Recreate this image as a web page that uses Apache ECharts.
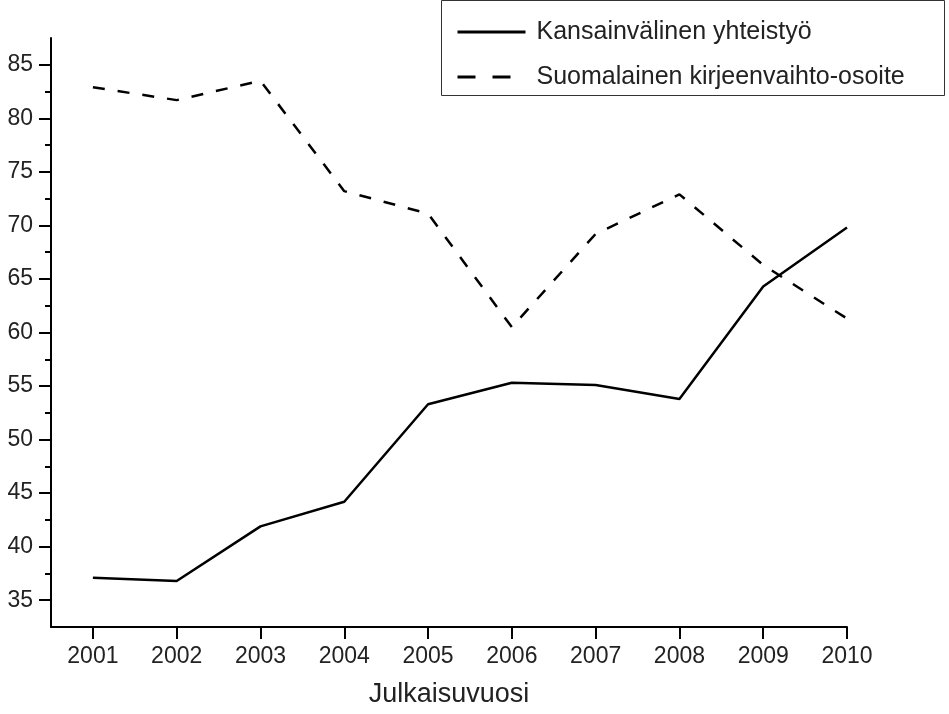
<!DOCTYPE html>
<html>
<head>
<meta charset="utf-8">
<script src="https://cdn.jsdelivr.net/npm/echarts@6/dist/echarts.min.js"></script>
<style>
  html, body { margin: 0; padding: 0; background: #fff; }
  #chart { width: 949px; height: 714px; }
</style>
</head>
<body>
<div id="chart"></div>
<script>
var years = [2001, 2002, 2003, 2004, 2005, 2006, 2007, 2008, 2009, 2010];
var kansainvalinen = [37.1, 36.8, 41.9, 44.2, 53.3, 55.3, 55.1, 53.8, 64.3, 69.8];
var suomalainen = [82.9, 81.7, 83.5, 73.2, 71.1, 60.5, 69.2, 72.9, 66.3, 61.3];
var yMajorTicks = [35, 40, 45, 50, 55, 60, 65, 70, 75, 80, 85];
var yMinorTicks = [37.5, 42.5, 47.5, 52.5, 57.5, 62.5, 67.5, 72.5, 77.5, 82.5];

var seriesNames = ['Kansainvälinen yhteistyö', 'Suomalainen kirjeenvaihto-osoite'];

function pairs(values) {
    return years.map(function (y, i) { return [y, values[i]]; });
}

var font = '"Liberation Sans", Arial, Helvetica, sans-serif';
var myChart = echarts.init(document.getElementById('chart'));

var option = {
    backgroundColor: '#fff',
    animation: false,
    textStyle: { fontFamily: font, color: '#222' },
    grid: { left: 51, right: 102, top: 38, bottom: 87 },
    legend: {
        orient: 'vertical',
        left: 456,
        top: 19,
        padding: 0,
        itemWidth: 68,
        itemHeight: 14,
        itemGap: 19,
        itemStyle: { opacity: 0 },
        textStyle: { fontSize: 25, lineHeight: 26, color: '#222', fontFamily: font, padding: [0, 0, 0, 6] },
        data: [{
            name: seriesNames[0],
            lineStyle: { width: 3, type: 'solid', color: '#000' }
        }, {
            name: seriesNames[1],
            lineStyle: { width: 3, type: [18, 17], color: '#000' }
        }]
    },
    graphic: [{
        type: 'rect',
        shape: { x: 441.5, y: 0.5, width: 503, height: 95 },
        style: { fill: 'none', stroke: '#333', lineWidth: 1 }
    }],
    xAxis: {
        type: 'value',
        min: 2000.5,
        max: 2010,
        name: 'Julkaisuvuosi',
        nameLocation: 'middle',
        nameGap: 54,
        nameTextStyle: { fontSize: 27, color: '#222', fontFamily: font },
        axisLine: { lineStyle: { color: '#000', width: 2 } },
        axisTick: { show: true, inside: false, length: 12, lineStyle: { color: '#000', width: 2 }, customValues: years },
        axisLabel: {
            fontSize: 23, color: '#222', margin: 18, customValues: years,
            formatter: function (v) { return String(v); }
        },
        splitLine: { show: false }
    },
    yAxis: [{
        type: 'value',
        min: 32.5,
        max: 87.5,
        axisLine: { show: true, lineStyle: { color: '#000', width: 2 } },
        axisTick: { show: true, length: 12, lineStyle: { color: '#000', width: 2 }, customValues: yMajorTicks },
        axisLabel: { fontSize: 23, color: '#222', margin: 18, customValues: yMajorTicks },
        splitLine: { show: false }
    }, {
        type: 'value',
        min: 32.5,
        max: 87.5,
        position: 'left',
        axisLine: { show: false },
        axisTick: { show: true, length: 6, lineStyle: { color: '#000', width: 2 }, customValues: yMinorTicks },
        axisLabel: { show: false },
        splitLine: { show: false }
    }],
    series: [{
        name: seriesNames[0],
        type: 'line',
        symbol: 'none',
        data: pairs(kansainvalinen),
        lineStyle: { color: '#000', width: 2.5, type: 'solid' },
        itemStyle: { color: '#000' }
    }, {
        name: seriesNames[1],
        type: 'line',
        symbol: 'none',
        data: pairs(suomalainen),
        lineStyle: { color: '#000', width: 2.5, type: [12, 13] },
        itemStyle: { color: '#000' }
    }]
};

myChart.setOption(option);
</script>
</body>
</html>
